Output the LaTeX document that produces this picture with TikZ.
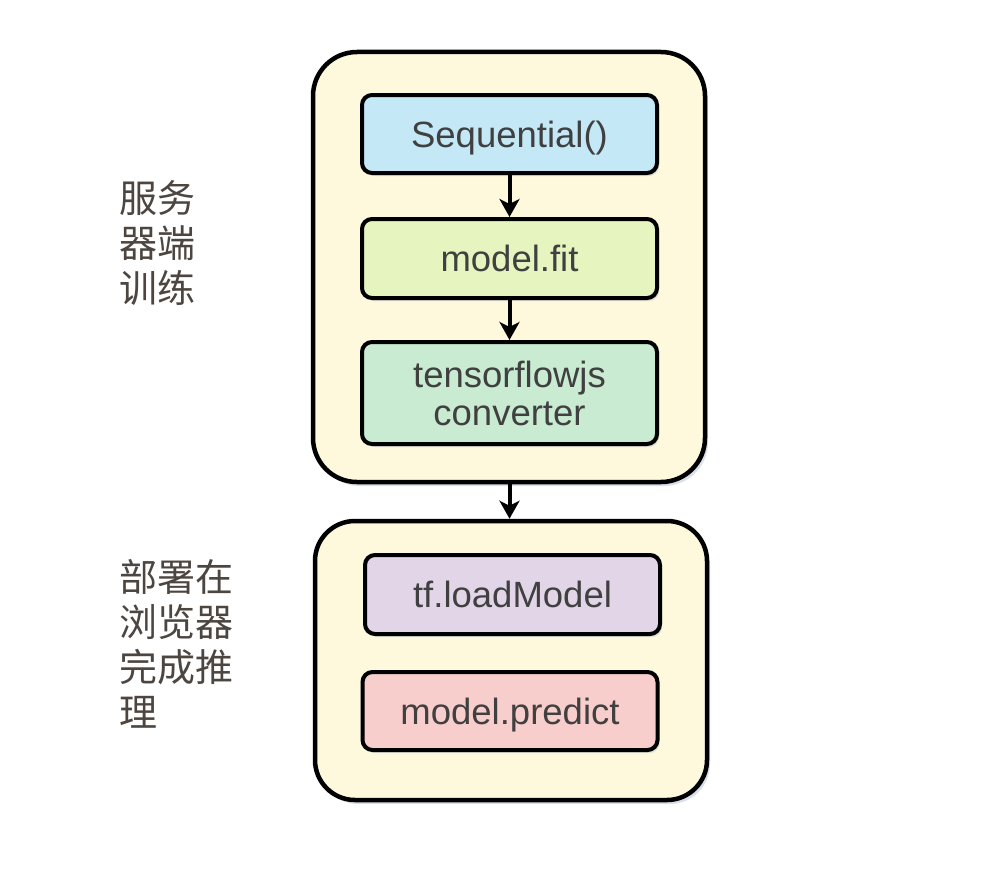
\documentclass[tikz,border=0pt]{standalone}
\usepackage{fontspec}
\setmainfont{Liberation Sans}
\newfontfamily\cjk{Noto Sans CJK SC}
\usetikzlibrary{arrows.meta,shadows}
\definecolor{txt}{HTML}{404040}
\definecolor{cjktxt}{HTML}{4D4540}
\definecolor{cont}{HTML}{FEF8DD}
\definecolor{cblue}{HTML}{C5E8F7}
\definecolor{cyel}{HTML}{E6F5C0}
\definecolor{cmint}{HTML}{C8EBD2}
\definecolor{clav}{HTML}{E1D5E7}
\definecolor{cpink}{HTML}{F8CECC}
\definecolor{shade}{HTML}{9AA6C0}
\tikzset{
  container/.style={draw=black, line width=4.5pt, fill=cont, rounded corners=44pt,
    drop shadow={shadow xshift=3pt, shadow yshift=-4pt, opacity=0.35, fill=shade},
    minimum width=392pt, inner sep=0pt},
  stepbox/.style={draw=black, line width=4pt, rounded corners=10pt,
    minimum width=295pt, inner sep=0pt, text=txt, align=center,
    font=\fontsize{36.5}{40}\selectfont,
    drop shadow={shadow xshift=2pt, shadow yshift=-3pt, opacity=0.3, fill=shade}},
  flow/.style={line width=4pt, -{Stealth[length=18pt,width=20pt,inset=5pt]}},
  sidelabel/.style={text=cjktxt, font=\cjk\fontsize{38}{45}\selectfont, align=left, inner sep=0pt, anchor=west}
}
\begin{document}
\begin{tikzpicture}[x=1pt,y=-1pt]
\useasboundingbox[fill=white] (0,0) rectangle (981,883);
\node[container, minimum height=430pt] (train) at (509,267) {};
\node[container, minimum height=279pt, rounded corners=40pt] (deploy) at (511,660.5) {};
\node[stepbox, fill=cblue, minimum height=78pt, text depth=0pt] (seq) at (509.5,134) {Sequential()};
\node[stepbox, fill=cyel, minimum height=79pt] (fit) at (509.5,258.5) {model.fit};
\node[stepbox, fill=cmint, minimum height=102pt] (conv) at (509.5,393) {tensorflowjs\\[-2pt]converter};
\node[stepbox, fill=clav, minimum height=79pt] (load) at (512.5,594.5) {tf.loadModel};
\node[stepbox, fill=cpink, minimum height=78pt, text depth=0pt] (pred) at (510,711) {model.predict};
\draw[flow] (seq) -- (fit);
\draw[flow] (fit) -- (conv);
\draw[flow] (train.south -| seq.south) -- (deploy.north -| seq.south);
\node[sidelabel] (lab1) at (119,243) {服务\\器端\\训练};
\node[sidelabel] (lab2) at (119,644) {部署在\\浏览器\\完成推\\理};
\end{tikzpicture}
\end{document}
